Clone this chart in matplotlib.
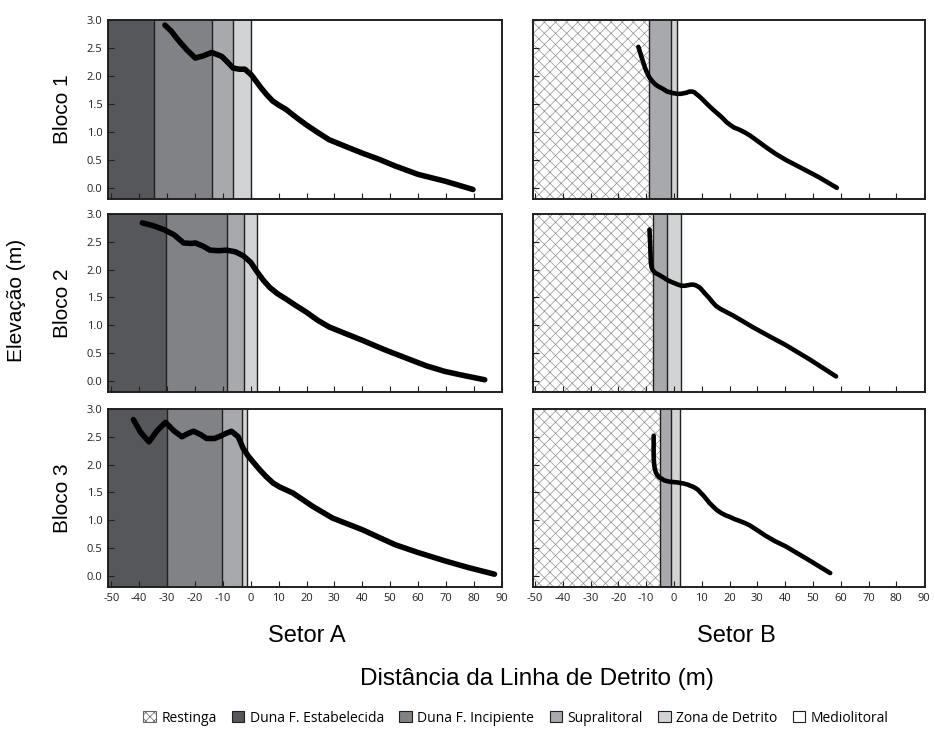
import matplotlib
matplotlib.use("Agg")
import matplotlib.pyplot as plt
from matplotlib.patches import Patch

# ---------------- data ----------------
zone_names = ["Restinga", "Duna F. Estabelecida", "Duna F. Incipiente",
              "Supralitoral", "Zona de Detrito", "Mediolitoral"]

sector_A_zones = ["Duna F. Estabelecida", "Duna F. Incipiente", "Supralitoral",
                  "Zona de Detrito", "Mediolitoral"]
sector_B_zones = ["Restinga", "Supralitoral", "Zona de Detrito", "Mediolitoral"]

# zone boundaries (m) between consecutive zones
b1_A_bounds = [-34.8, -13.8, -6.3, 0.0]
b2_A_bounds = [-30.4, -8.7, -2.5, 2.3]
b3_A_bounds = [-30.2, -10.4, -3.2, -1.5]
b1_B_bounds = [-9.1, -1.0, 1.2]
b2_B_bounds = [-7.7, -2.6, 2.7]
b3_B_bounds = [-5.0, -0.9, 2.1]

# elevation profiles
b1_A_x = [-30.8, -28.5, -26.5, -23.0, -19.9, -17.0, -14.0, -10.4, -8.0, -6.3, -4.0, -2.1, 0.2, 2.0, 3.8, 5.8, 7.9, 10.0, 12.7, 16.0, 19.8, 24.0, 28.1, 34.0, 40.0, 46.0, 51.8, 60.0, 69.6, 75.0, 79.7]
b1_A_y = [2.91, 2.80, 2.67, 2.47, 2.32, 2.36, 2.42, 2.35, 2.23, 2.14, 2.12, 2.12, 2.02, 1.90, 1.78, 1.66, 1.55, 1.48, 1.40, 1.27, 1.13, 0.99, 0.86, 0.74, 0.62, 0.51, 0.39, 0.24, 0.12, 0.04, -0.03]

b2_A_x = [-38.9, -35.0, -31.2, -27.6, -24.1, -21.5, -19.9, -17.0, -14.6, -11.5, -8.7, -5.5, -2.7, 0.0, 2.0, 4.5, 6.8, 9.5, 12.7, 16.0, 19.8, 24.0, 28.1, 34.0, 40.0, 48.0, 57.8, 63.0, 69.6, 77.0, 83.9]
b2_A_y = [2.84, 2.79, 2.72, 2.63, 2.48, 2.47, 2.48, 2.42, 2.35, 2.34, 2.35, 2.32, 2.25, 2.13, 1.98, 1.81, 1.68, 1.57, 1.47, 1.36, 1.24, 1.09, 0.97, 0.85, 0.73, 0.56, 0.37, 0.27, 0.17, 0.09, 0.02]

b3_A_x = [-42.1, -39.5, -36.5, -33.6, -30.6, -27.6, -24.7, -22.5, -20.5, -18.0, -15.8, -13.0, -11.0, -8.5, -6.9, -4.5, -2.7, -1.0, 0.8, 3.0, 5.6, 8.0, 10.3, 15.1, 22.2, 29.3, 40.0, 51.8, 60.0, 69.6, 78.0, 87.4]
b3_A_y = [2.81, 2.58, 2.41, 2.61, 2.76, 2.61, 2.50, 2.56, 2.60, 2.54, 2.47, 2.47, 2.51, 2.57, 2.60, 2.50, 2.29, 2.16, 2.05, 1.92, 1.78, 1.67, 1.60, 1.49, 1.25, 1.04, 0.83, 0.56, 0.42, 0.27, 0.15, 0.03]

b1_B_x = [-12.8, -12.3, -11.8, -11.2, -10.7, -10.2, -9.8, -9.3, -8.9, -8.2, -7.5, -6.7, -5.9, -4.0, -2.4, 0.0, 1.2, 2.5, 3.5, 4.5, 5.5, 6.5, 7.3, 8.0, 9.0, 10.1, 11.3, 12.5, 14.0, 15.4, 17.0, 18.0, 19.0, 20.1, 21.5, 23.5, 25.5, 27.2, 30.0, 33.0, 36.5, 40.2, 46.0, 52.1, 58.6]
b1_B_y = [2.52, 2.44, 2.36, 2.27, 2.19, 2.12, 2.07, 2.02, 1.98, 1.93, 1.89, 1.85, 1.82, 1.77, 1.72, 1.69, 1.68, 1.68, 1.69, 1.70, 1.72, 1.72, 1.71, 1.68, 1.64, 1.59, 1.53, 1.47, 1.40, 1.34, 1.27, 1.22, 1.17, 1.13, 1.08, 1.04, 0.99, 0.94, 0.84, 0.73, 0.61, 0.50, 0.35, 0.19, 0.00]

b2_B_x = [-8.8, -8.7, -8.6, -8.5, -8.4, -8.3, -8.0, -7.6, -6.7, -5.5, -4.5, -3.5, -2.6, -1.0, 0.0, 1.5, 2.7, 4.0, 5.0, 6.2, 6.9, 7.8, 8.5, 9.2, 9.8, 11.0, 12.5, 13.8, 15.1, 16.5, 18.0, 19.5, 21.1, 24.5, 28.2, 34.0, 40.0, 49.0, 58.3]
b2_B_y = [2.72, 2.62, 2.52, 2.40, 2.25, 2.12, 2.03, 1.99, 1.94, 1.91, 1.88, 1.85, 1.82, 1.78, 1.76, 1.73, 1.71, 1.71, 1.72, 1.73, 1.73, 1.72, 1.70, 1.68, 1.65, 1.58, 1.50, 1.42, 1.35, 1.30, 1.26, 1.22, 1.18, 1.08, 0.97, 0.81, 0.65, 0.38, 0.08]

b3_B_x = [-7.3, -7.3, -7.3, -7.3, -7.2, -7.1, -6.9, -6.5, -6.0, -5.3, -4.5, -3.6, -2.3, -1.0, 1.2, 3.5, 5.0, 5.9, 7.0, 8.0, 8.8, 9.5, 10.5, 11.5, 12.8, 14.2, 15.5, 17.0, 18.5, 20.1, 21.8, 23.5, 25.5, 27.2, 30.0, 33.0, 36.5, 40.2, 48.0, 56.2]
b3_B_y = [2.52, 2.40, 2.28, 2.16, 2.06, 2.00, 1.93, 1.86, 1.81, 1.77, 1.75, 1.72, 1.70, 1.69, 1.68, 1.66, 1.64, 1.62, 1.60, 1.57, 1.54, 1.50, 1.45, 1.39, 1.31, 1.24, 1.18, 1.13, 1.09, 1.06, 1.02, 0.99, 0.95, 0.91, 0.82, 0.72, 0.62, 0.53, 0.30, 0.05]

x_ticks = [-50, -40, -30, -20, -10, 0, 10, 20, 30, 40, 50, 60, 70, 80, 90]
y_ticks = [0.0, 0.5, 1.0, 1.5, 2.0, 2.5, 3.0]
row_labels = ["Bloco 1", "Bloco 2", "Bloco 3"]
col_labels = ["Setor A", "Setor B"]

# ---------------- style ----------------
zone_colors = {
    "Restinga": "white",
    "Duna F. Estabelecida": "#56575a",
    "Duna F. Incipiente": "#808285",
    "Supralitoral": "#a7a9ac",
    "Zona de Detrito": "#d1d3d4",
    "Mediolitoral": "white",
}
INK = "#231f20"
TICK_FONT = ["Open Sans", "DejaVu Sans"]
TITLE_FONT = ["Liberation Sans", "DejaVu Sans"]
plt.rcParams["hatch.linewidth"] = 0.5

W, H = 935, 731
fig = plt.figure(figsize=(W / 100, H / 100), dpi=100)

col_px = [(108, 501.7), (532.7, 925)]
row_px = [(20, 199), (214, 392), (409, 587)]
xlims = [(-51.2, 89.3), (-50.8, 90.3)]

panels = [
    [(sector_A_zones, b1_A_bounds, b1_A_x, b1_A_y), (sector_B_zones, b1_B_bounds, b1_B_x, b1_B_y)],
    [(sector_A_zones, b2_A_bounds, b2_A_x, b2_A_y), (sector_B_zones, b2_B_bounds, b2_B_x, b2_B_y)],
    [(sector_A_zones, b3_A_bounds, b3_A_x, b3_A_y), (sector_B_zones, b3_B_bounds, b3_B_x, b3_B_y)],
]

for r in range(3):
    for c in range(2):
        x0, x1 = col_px[c]
        y0, y1 = row_px[r]
        ax = fig.add_axes([x0 / W, 1 - y1 / H, (x1 - x0) / W, (y1 - y0) / H])
        zones, bounds, xs, ys = panels[r][c]
        xmin, xmax = xlims[c]
        edges = [xmin] + bounds + [xmax]
        for i, z in enumerate(zones):
            if z == "Restinga":
                ax.axvspan(edges[i], edges[i + 1], facecolor="white",
                           edgecolor="#8f8f8f", hatch="xxx", lw=0, zorder=0)
            else:
                ax.axvspan(edges[i], edges[i + 1], facecolor=zone_colors[z],
                           lw=0, zorder=0)
        for b in bounds:
            ax.axvline(b, color=INK, lw=1.0, zorder=1)
        ax.plot(xs, ys, color="black", lw=4.0 if c == 0 else 3.3,
                solid_capstyle="round", solid_joinstyle="round", zorder=3)
        ax.set_xlim(xmin, xmax)
        ax.set_ylim(-0.2, 3.0)
        ax.set_xticks(x_ticks)
        ax.set_yticks(y_ticks)
        ax.tick_params(direction="in", length=4, width=0.8, color=INK,
                       labelsize=8, labelcolor=INK, pad=4)
        if r < 2:
            ax.tick_params(labelbottom=False)
        else:
            ax.set_xticklabels([str(t) for t in x_ticks])
        if c == 1:
            ax.tick_params(labelleft=False)
        else:
            ax.set_yticklabels([f"{t:.1f}" for t in y_ticks])
        for lab in ax.get_xticklabels() + ax.get_yticklabels():
            lab.set_family(TICK_FONT)
        for s in ax.spines.values():
            s.set_color(INK)
            s.set_linewidth(1.4)
            s.set_zorder(4)
        if c == 0:
            fig.text(62 / W, 1 - ((y0 + y1) / 2) / H, row_labels[r], rotation=90,
                     ha="center", va="center", fontsize=15, family=TITLE_FONT)

fig.text(17 / W, 1 - 300 / H, "Elevação (m)", rotation=90, ha="center",
         va="center", fontsize=15, family=TITLE_FONT)
fig.text(307 / W, 1 - 636 / H, col_labels[0], ha="center", va="center",
         fontsize=17, family=TITLE_FONT)
fig.text(736 / W, 1 - 636 / H, col_labels[1], ha="center", va="center",
         fontsize=17, family=TITLE_FONT)
fig.text(537 / W, 1 - 679 / H, "Distância da Linha de Detrito (m)", ha="center",
         va="center", fontsize=17.5, family=TITLE_FONT)

handles = []
for z in zone_names:
    if z == "Restinga":
        handles.append(Patch(facecolor="white", edgecolor="#666666", hatch="xxxx", lw=0.8))
    else:
        handles.append(Patch(facecolor=zone_colors[z], edgecolor=INK, lw=0.8))
fig.legend(handles=handles, labels=zone_names, loc="center",
           bbox_to_anchor=(516 / W, 1 - 718 / H), ncol=6, frameon=False,
           handlelength=0.9, handleheight=0.9, handletextpad=0.4,
           columnspacing=1.1, prop={"family": TICK_FONT, "size": 10})

fig.savefig("out.png", dpi=100)
